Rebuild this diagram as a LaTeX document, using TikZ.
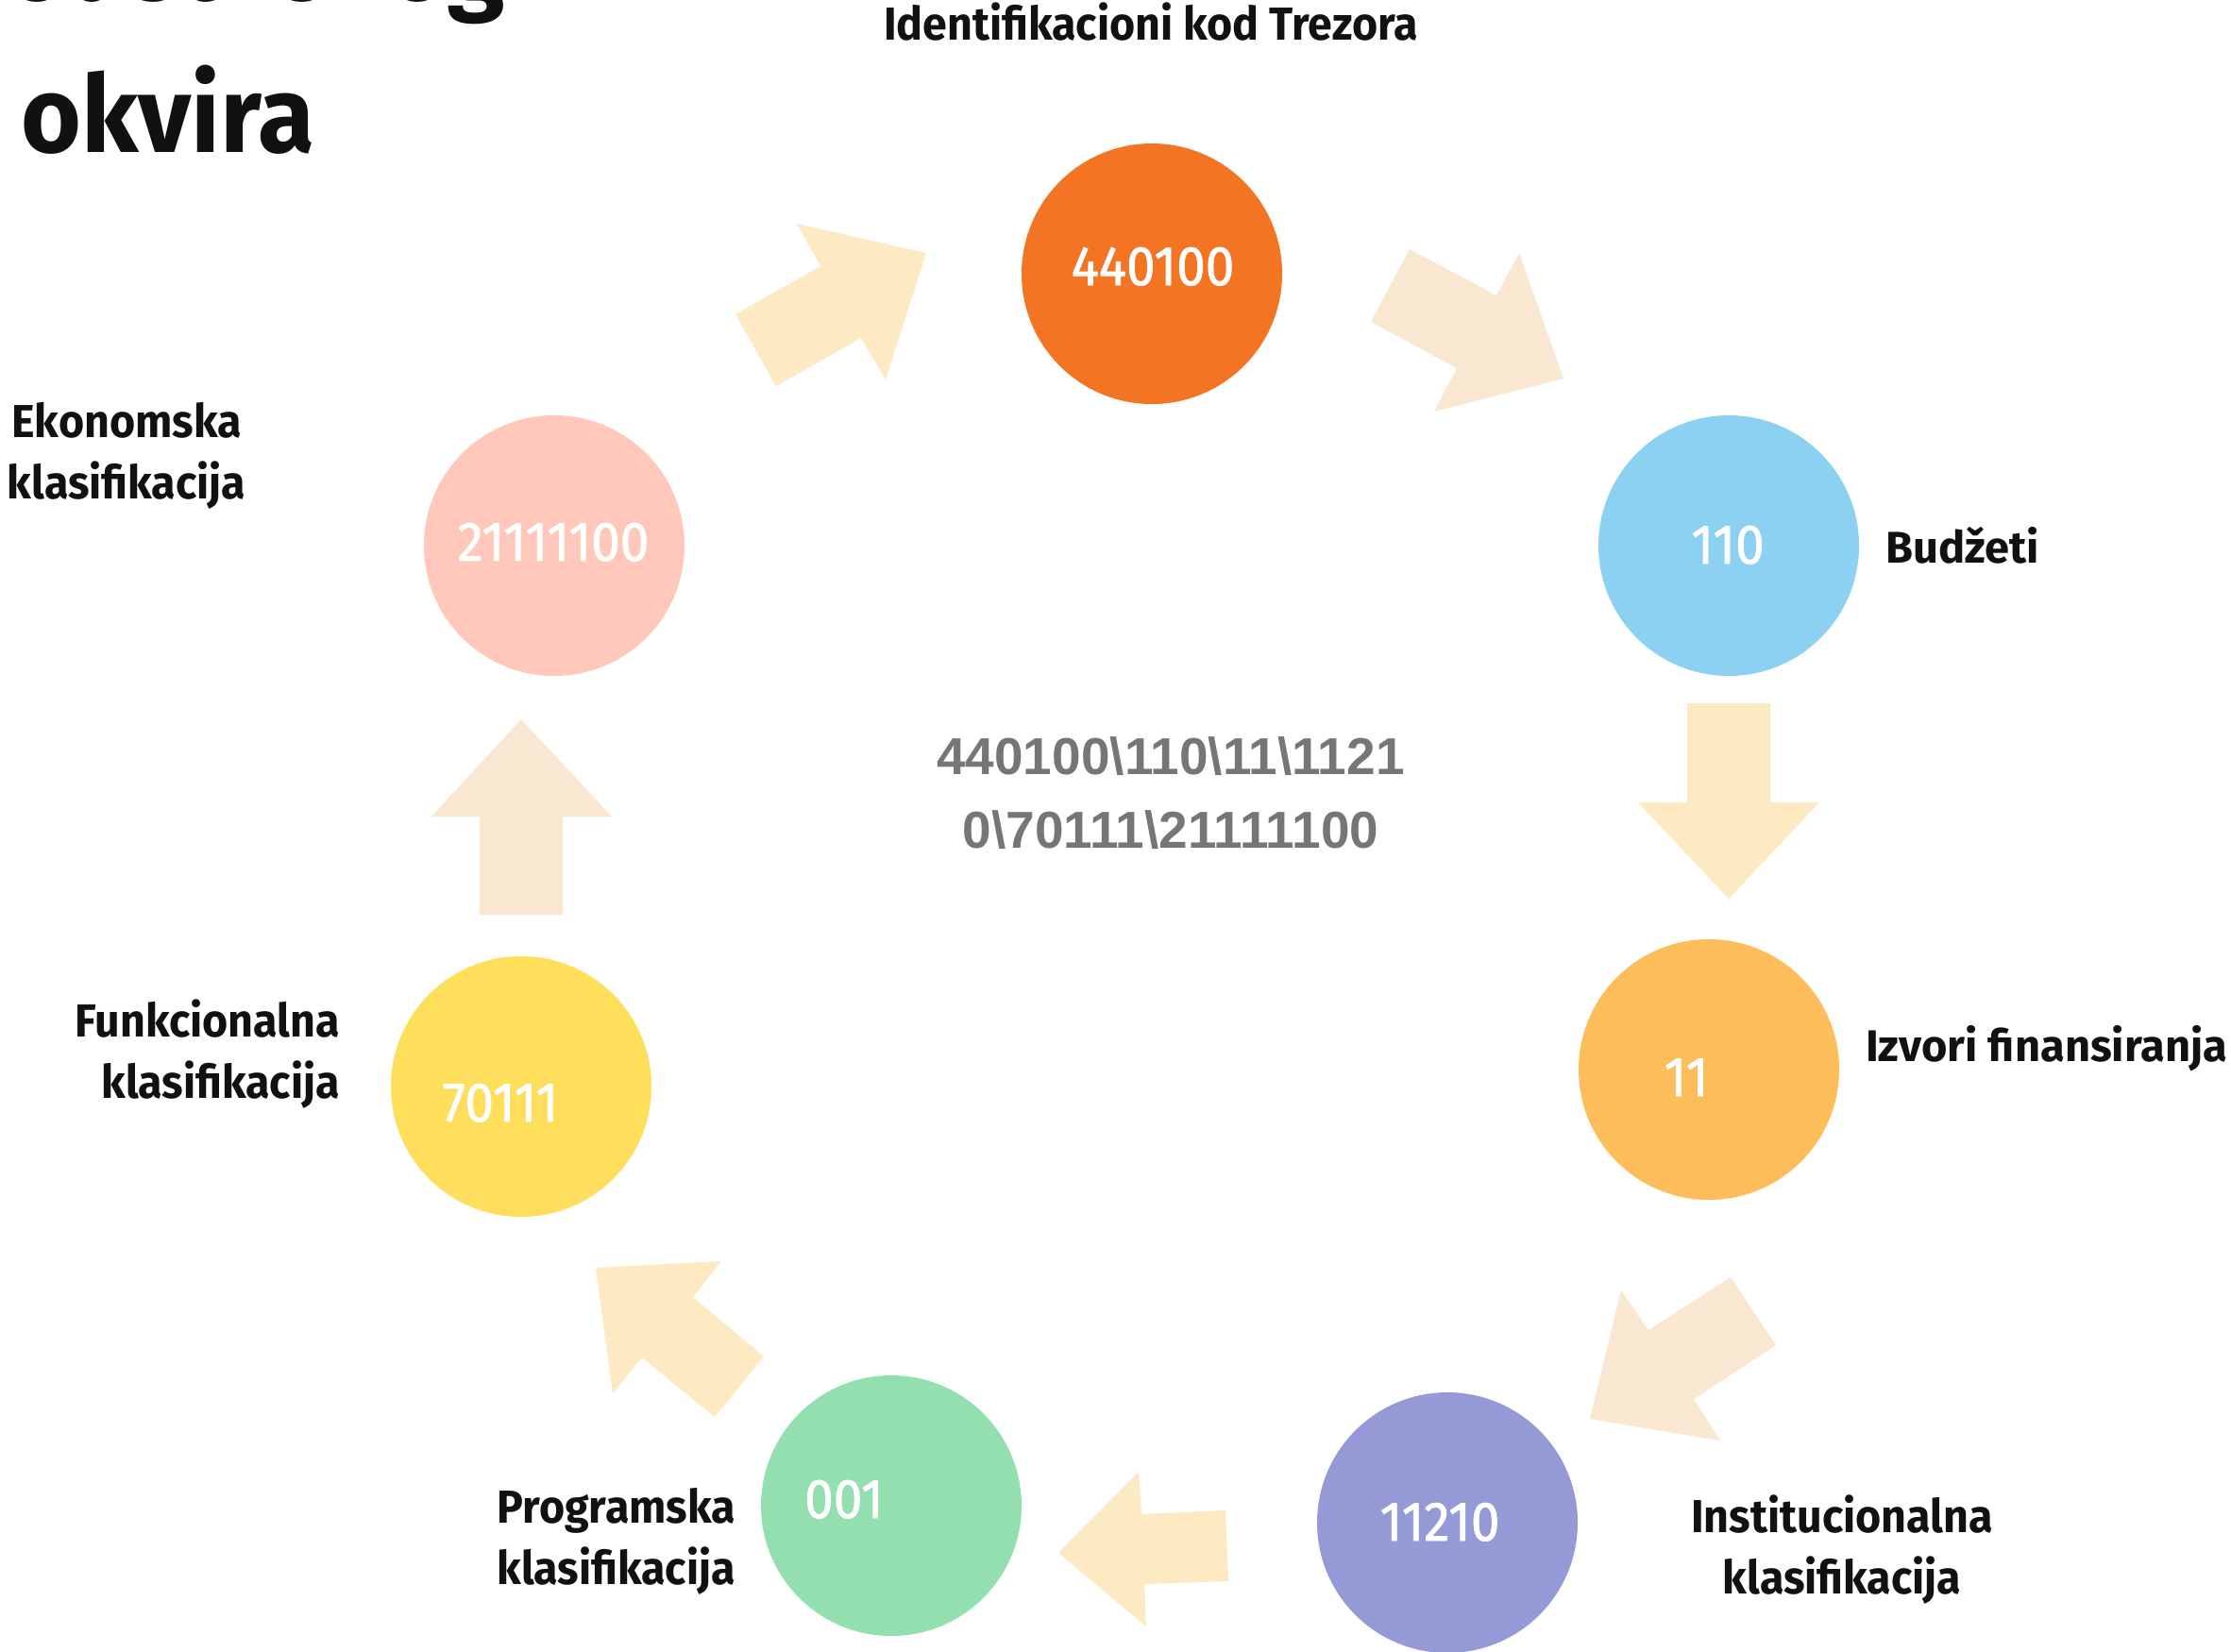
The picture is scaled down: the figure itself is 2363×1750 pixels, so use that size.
\documentclass[tikz,border=0pt]{standalone}
\usepackage{fontspec}
\setmainfont{Fira Sans}
\newfontfamily\numfont[Numbers=Proportional, FakeStretch=0.93, FakeBold=1.2]{Fira Sans}
\newfontfamily\lblfont[FakeStretch=0.95]{Fira Sans}
\newfontfamily\widefont{Fira Sans}
\newfontfamily\titlefont[FakeStretch=0.96]{Fira Sans}
\newfontfamily\codefont{Liberation Sans}
\definecolor{ink}{HTML}{111111}
\definecolor{cOrange}{HTML}{F37423}
\definecolor{cBlue}{HTML}{8DD1F2}
\definecolor{cAmber}{HTML}{FDBD5B}
\definecolor{cPurple}{HTML}{9599D6}
\definecolor{cGreen}{HTML}{94DFB0}
\definecolor{cYellow}{HTML}{FEDE5A}
\definecolor{cPink}{HTML}{FFC8BA}
\definecolor{arrY}{HTML}{FDE9C2}
\definecolor{arrP}{HTML}{FAE7D1}
\definecolor{codegray}{HTML}{767676}
\begin{document}
\begin{tikzpicture}[x=1pt,y=-1pt,
  disc/.style={circle, minimum size=276pt, inner sep=0pt, draw=none},
  num/.style={font=\numfont\fontsize{59}{59}\selectfont, text=white, inner sep=0pt, anchor=base},
  lbl/.style={font=\lblfont\bfseries\fontsize{49}{65}\selectfont, text=ink, inner sep=0pt},
  wlbl/.style={font=\widefont\bfseries\fontsize{47}{60}\selectfont, text=ink, inner sep=0pt},
  titletxt/.style={font=\titlefont\bfseries\fontsize{114}{130}\selectfont, text=ink, inner sep=0pt},
  blockY/.style={fill=arrY},
  blockP/.style={fill=arrP}]
\useasboundingbox (0,0) rectangle (2363,1750);
\fill[white] (0,0) rectangle (2363,1750);
\clip (0,0) rectangle (2363,1750);

% title (partly outside the picture)
\node[titletxt, anchor=base east] (title1) at (535,1) {računovodstvenog};
\node[titletxt, anchor=base west] (title2) at (22,161) {okvira};

% block arrows
\fill[blockY] (981,268) -- (938,402) -- (912,358) -- (822,409) -- (779,333) -- (869,282) -- (844,237) -- cycle;
\fill[blockP] (1656,401) -- (1519,436) -- (1543,390) -- (1452,341) -- (1493,264) -- (1585,313) -- (1609,268) -- cycle;
\fill[blockY] (1831,952) -- (1735,850) -- (1787,850) -- (1787,745) -- (1875,745) -- (1875,850) -- (1927,850) -- cycle;
\fill[blockP] (1684,1503) -- (1717,1367) -- (1746,1409) -- (1833,1353) -- (1881,1425) -- (1794,1482) -- (1822,1526) -- cycle;
\fill[blockY] (1121,1645) -- (1206,1559) -- (1209,1604) -- (1298,1600) -- (1301,1675) -- (1212,1678) -- (1214,1723) -- cycle;
\fill[blockY] (631,1343) -- (764,1336) -- (734,1374) -- (809,1437) -- (757,1501) -- (680,1438) -- (649,1476) -- cycle;
\fill[blockP] (552,762) -- (648,865) -- (596,865) -- (596,969) -- (508,969) -- (508,865) -- (457,865) -- cycle;

% discs
\node[disc, fill=cOrange] (d1) at (1220,290) {};
\node[disc, fill=cBlue]   (d2) at (1831,578) {};
\node[disc, fill=cAmber]  (d3) at (1810,1133) {};
\node[disc, fill=cPurple] (d4) at (1533,1613) {};
\node[disc, fill=cGreen]  (d5) at (944,1595) {};
\node[disc, fill=cYellow] (d6) at (552,1151) {};
\node[disc, fill=cPink]   (d7) at (587,578) {};

% numbers
\node[num] (n1) at (1221,302) {440100};
\node[num] (n2) at (1830,597) {110};
\node[num] (n3) at (1786,1161) {11};
\node[num] (n4) at (1525,1632) {11210};
\node[num] (n5) at (894,1608) {001};
\node[num] (n6) at (530,1188) {70111};
\node[num] (n7) at (586,594) {21111100};

% labels (anchor base = baseline of the last line)
\node[lbl, anchor=base] (l1) at (1219,43) {Identifikacioni kod Trezora};
\node[wlbl, anchor=base west] (l2) at (1997,596) {Budžeti};
\node[wlbl, anchor=base west] (l3) at (1976,1124) {Izvori finansiranja};
\node[lbl, anchor=base, align=center] (l4) at (1951,1688) {Institucionalna\\klasifikacija};
\node[lbl, anchor=base east, align=right] (l5) at (779,1678) {Programska\\klasifikacija};
\node[lbl, anchor=base east, align=right] (l6) at (360,1163) {Funkcionalna\\klasifikacija};
\node[lbl, anchor=base, align=center] (l7) at (134,528) {Ekonomska\\klasifikacija};

% centre code
\node[font=\codefont\bfseries\fontsize{55}{78}\selectfont, text=codegray, inner sep=0pt, anchor=base, align=center] (code) at (1240,898)
  {440100\textbackslash110\textbackslash11\textbackslash1121\\0\textbackslash70111\textbackslash21111100};
\end{tikzpicture}
\end{document}
